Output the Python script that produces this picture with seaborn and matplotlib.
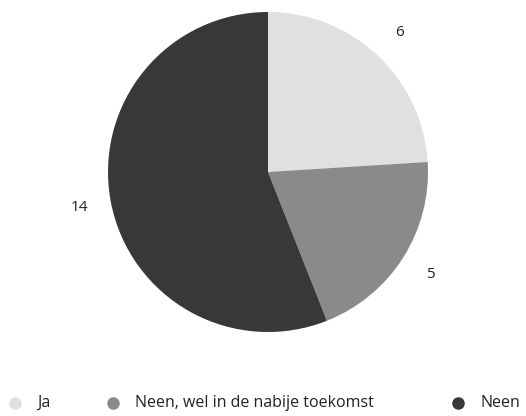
import matplotlib
matplotlib.use('Agg')
import matplotlib.pyplot as plt
from matplotlib.lines import Line2D
import seaborn as sns

categorieen = ['Ja', 'Neen, wel in de nabije toekomst', 'Neen']
aantallen = [6, 5, 14]
kleuren = ['#e0e0e0', '#8a8a8a', '#383838']

sns.set_style('white')
plt.rcParams['font.family'] = ['Open Sans', 'DejaVu Sans']

fig = plt.figure(figsize=(5.26, 4.16), dpi=100)
ax = fig.add_axes([268/526 - 160/526, (416-172)/416 - 160/416, 320/526, 320/416])

wedges, teksten = ax.pie(aantallen, colors=kleuren, startangle=90, counterclock=False,
                         labels=[str(a) for a in aantallen], labeldistance=1.2,
                         wedgeprops={'linewidth': 0, 'edgecolor': 'none'},
                         textprops={'fontsize': 11, 'color': '#222222'})
for t in teksten:
    t.set_ha('center')
    t.set_va('center')
ax.set_xlim(-1, 1)
ax.set_ylim(-1, 1)
ax.set_aspect('equal')

# legende onderaan
posities = [15, 113, 458]
for naam, kleur, x in zip(categorieen, kleuren, posities):
    fig.add_artist(Line2D([x/526], [1 - 403/416], marker='o', markersize=8,
                          color=kleur, linestyle='none', transform=fig.transFigure))
    fig.text((x + 22)/526, 1 - 403/416, naam, fontsize=11.5, color='#222222',
             va='center', ha='left')

fig.savefig('out.png', dpi=100)
